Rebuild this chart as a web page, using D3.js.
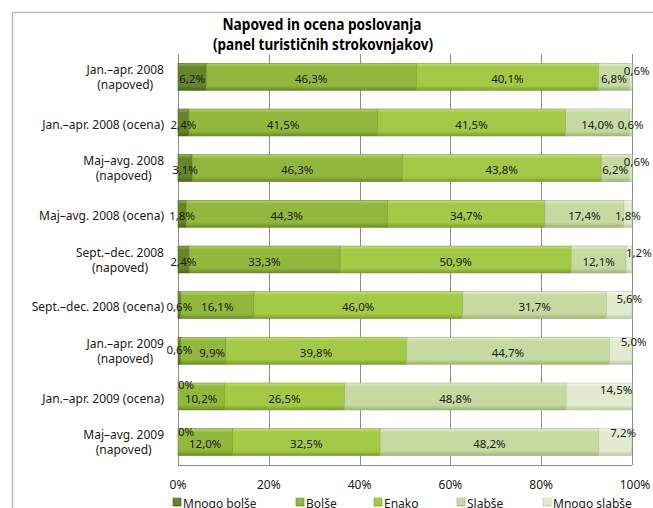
<!DOCTYPE html>
<html>
<head>
<meta charset="utf-8">
<script src="https://d3js.org/d3.v7.min.js"></script>
<style>
  body { margin: 0; background: #fff; }
  text { font-family: "Noto Sans", "DejaVu Sans", sans-serif; }
</style>
</head>
<body>
<svg id="chart" width="653" height="508"></svg>
<script>

// categories (rows, top to bottom), "\n" marks a line break
var categories = [
  "Jan.–apr. 2008\n(napoved)",
  "Jan.–apr. 2008 (ocena)",
  "Maj–avg. 2008\n(napoved)",
  "Maj–avg. 2008 (ocena)",
  "Sept.–dec. 2008\n(napoved)",
  "Sept.–dec. 2008 (ocena)",
  "Jan.–apr. 2009\n(napoved)",
  "Jan.–apr. 2009 (ocena)",
  "Maj–avg. 2009\n(napoved)"
];

var seriesNames = ["Mnogo bolše", "Bolše", "Enako", "Slabše", "Mnogo slabše"];

// shares in percent, one array per series
var mnogoBolse  = [6.2, 2.4, 3.1, 1.8, 2.4, 0.6, 0.6, 0, 0];
var bolse       = [46.3, 41.5, 46.3, 44.3, 33.3, 16.1, 9.9, 10.2, 12.0];
var enako       = [40.1, 41.5, 43.8, 34.7, 50.9, 46.0, 39.8, 26.5, 32.5];
var slabse      = [6.8, 14.0, 6.2, 17.4, 12.1, 31.7, 44.7, 48.8, 48.2];
var mnogoSlabse = [0.6, 0.6, 0.6, 1.8, 1.2, 5.6, 5.0, 14.5, 7.2];

var tickValues = [0, 20, 40, 60, 80, 100];

// colours per series: [top highlight, base, bottom shade]
var seriesColors = [
  ["#8fae4f", "#66852a", "#4a651b"],
  ["#b4d467", "#92b73d", "#6c8c26"],
  ["#c4e075", "#a3c947", "#7e9f2e"],
  ["#e3eecc", "#c6d9a0", "#9fb577"],
  ["#f5f8ee", "#e2ebd0", "#bccaa4"]
];

// label adjustments for crowded segments, "row-series": [dx, dy]
var labelNudge = {
  "0-4": [6, -8], "2-4": [6, -8], "4-4": [10, -9], "5-4": [10, -8],
  "6-4": [13, -11], "7-4": [17, -9], "8-4": [8, -11],
  "6-0": [0, -3], "6-1": [9, 0], "7-0": [8, -14], "8-0": [8, -12]
};

var svg = d3.select("#chart");

// outer chart frame
svg.append("rect")
  .attr("x", 12.5).attr("y", 12.5)
  .attr("width", 700).attr("height", 600)
  .attr("fill", "none")
  .attr("stroke", "#bdbdbd")
  .attr("stroke-width", 1.5);

var plotLeft = 178, plotRight = 632, plotTop = 54, plotBottom = 465;

var x = d3.scaleLinear().domain([0, 100]).range([plotLeft, plotRight]);
var y = d3.scaleBand().domain(categories).range([plotTop, plotBottom])
  .paddingInner(0.41).paddingOuter(0.205);

// gradients for the bevelled bar look
var defs = svg.append("defs");
seriesColors.forEach(function(c, i) {
  var g = defs.append("linearGradient")
    .attr("id", "grad" + i)
    .attr("x1", 0).attr("y1", 0).attr("x2", 0).attr("y2", 1);
  g.append("stop").attr("offset", "0%").attr("stop-color", c[0]);
  g.append("stop").attr("offset", "14%").attr("stop-color", c[1]);
  g.append("stop").attr("offset", "82%").attr("stop-color", c[1]);
  g.append("stop").attr("offset", "100%").attr("stop-color", c[2]);
});

// vertical grid lines
svg.append("g")
  .selectAll("line")
  .data(tickValues)
  .enter().append("line")
  .attr("x1", function(d) { return Math.round(x(d)) + 0.5; })
  .attr("x2", function(d) { return Math.round(x(d)) + 0.5; })
  .attr("y1", plotTop).attr("y2", plotBottom)
  .attr("stroke", "#8c8c8c")
  .attr("stroke-width", 1);

// stack the rows
var rows = categories.map(function(c, i) {
  return {
    cat: c,
    values: [mnogoBolse[i], bolse[i], enako[i], slabse[i], mnogoSlabse[i]]
  };
});
var stack = d3.stack()
  .keys(d3.range(seriesNames.length))
  .value(function(d, k) { return d.values[k]; });
var layers = stack(rows);

var barG = svg.append("g");
layers.forEach(function(layer, si) {
  barG.selectAll(".s" + si)
    .data(layer)
    .enter().append("rect")
    .attr("x", function(d) { return x(d[0]); })
    .attr("y", function(d) { return y(d.data.cat); })
    .attr("width", function(d) { return x(d[1]) - x(d[0]); })
    .attr("height", y.bandwidth())
    .attr("fill", "url(#grad" + si + ")")
    .attr("stroke", seriesColors[si][2])
    .attr("stroke-width", 0.6)
    .attr("stroke-opacity", function(d) { return d[1] - d[0] > 0 ? 1 : 0; });
});

// bottom axis line
svg.append("line")
  .attr("x1", plotLeft).attr("x2", plotRight)
  .attr("y1", plotBottom + 0.5).attr("y2", plotBottom + 0.5)
  .attr("stroke", "#8c8c8c");

var fmt = function(v) {
  return v === 0 ? "0%" : v.toFixed(1).replace(".", ",") + "%";
};

// data labels
var labelG = svg.append("g");
layers.forEach(function(layer, si) {
  layer.forEach(function(d, ri) {
    var n = labelNudge[ri + "-" + si] || [0, 0];
    labelG.append("text")
      .attr("x", (x(d[0]) + x(d[1])) / 2 + n[0])
      .attr("y", y(d.data.cat) + y.bandwidth() / 2 + 2 + n[1])
      .attr("dy", "0.35em")
      .attr("text-anchor", "middle")
      .attr("font-size", 11.5)
      .attr("fill", "#1a1a1a")
      .text(fmt(d.data.values[si]));
  });
});

// category labels
var catG = svg.append("g");
categories.forEach(function(c) {
  var lines = c.split("\n");
  var cy = y(c) + y.bandwidth() / 2;
  if (lines.length === 1) {
    catG.append("text")
      .attr("x", 164).attr("y", cy + 2)
      .attr("dy", "0.35em")
      .attr("text-anchor", "end")
      .attr("font-size", 12)
      .attr("fill", "#1a1a1a")
      .text(lines[0]);
  } else {
    var t = catG.append("text")
      .attr("font-size", 12)
      .attr("fill", "#1a1a1a")
      .attr("text-anchor", "middle");
    var spans = lines.map(function(l, k) {
      return t.append("tspan").attr("y", cy - 7 + k * 15).attr("dy", "0.35em").text(l);
    });
    var w = d3.max(spans, function(s) { return s.node().getComputedTextLength(); });
    spans.forEach(function(s) { s.attr("x", 164 - w / 2); });
  }
});

// value axis labels
svg.append("g")
  .selectAll("text")
  .data(tickValues)
  .enter().append("text")
  .attr("x", function(d) { return x(d) + (d === 100 ? 3 : 0); })
  .attr("y", 485)
  .attr("dy", "0.35em")
  .attr("text-anchor", "middle")
  .attr("font-size", 12)
  .attr("fill", "#1a1a1a")
  .text(function(d) { return d + "%"; });

// legend
var legendX = [173, 296, 374, 457, 543];
var legend = svg.append("g");
seriesNames.forEach(function(name, i) {
  legend.append("rect")
    .attr("x", legendX[i]).attr("y", 498)
    .attr("width", 8).attr("height", 8)
    .attr("fill", "url(#grad" + i + ")")
    .attr("stroke", seriesColors[i][2])
    .attr("stroke-width", 0.6);
  legend.append("text")
    .attr("x", legendX[i] + 10).attr("y", 508)
    .attr("font-size", 12)
    .attr("fill", "#1a1a1a")
    .text(name);
});

// title
var title = svg.append("g")
  .attr("font-weight", "bold")
  .attr("font-size", 16)
  .attr("fill", "#000")
  .attr("text-anchor", "middle");
title.append("text").attr("x", 322).attr("y", 30)
  .attr("textLength", 199).attr("lengthAdjust", "spacingAndGlyphs")
  .text("Napoved in ocena poslovanja");
title.append("text").attr("x", 323).attr("y", 49.5)
  .attr("textLength", 220).attr("lengthAdjust", "spacingAndGlyphs")
  .text("(panel turističnih strokovnjakov)");

</script>
</body>
</html>
